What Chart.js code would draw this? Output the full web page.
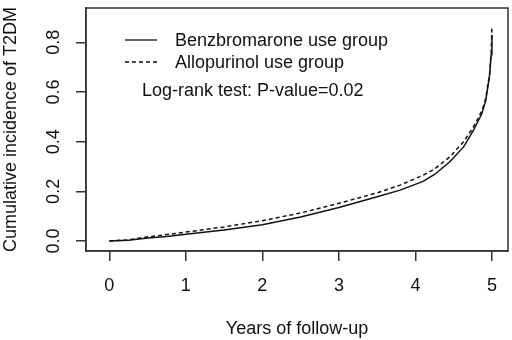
<!DOCTYPE html>
<html>
<head>
<meta charset="utf-8">
<script src="https://cdn.jsdelivr.net/npm/chart.js@4"></script>
<style>
  html, body { margin: 0; padding: 0; background: #fff; }
  #wrap { width: 512px; height: 340px; }
</style>
</head>
<body>
<div id="wrap"><canvas id="chart" width="512" height="340"></canvas></div>
<script>
// follow-up time (years) and cumulative incidence
const years = [0, 0.25, 0.5, 0.75, 1, 1.5, 2, 2.5, 3, 3.5, 3.8, 4.1, 4.25, 4.45, 4.63, 4.76, 4.87, 4.92, 4.97, 4.99, 5.0];
const benzbromarone = [0, 0.003, 0.012, 0.018, 0.027, 0.045, 0.066, 0.097, 0.135, 0.178, 0.205, 0.24, 0.268, 0.319, 0.379, 0.446, 0.514, 0.567, 0.668, 0.75, 0.83];
const allopurinol = [0, 0.005, 0.017, 0.026, 0.036, 0.057, 0.082, 0.113, 0.152, 0.194, 0.225, 0.265, 0.29, 0.339, 0.4, 0.46, 0.525, 0.575, 0.675, 0.76, 0.863];
const seriesLabels = ["Benzbromarone use group", "Allopurinol use group"];
const xTicks = [0, 1, 2, 3, 4, 5];
const yTicks = [0.0, 0.2, 0.4, 0.6, 0.8];
const testNote = "Log-rank test: P-value=0.02";

const FONT = "'Liberation Sans', Arial, sans-serif";
const ink = "#111";

const toPoints = (ys) => years.map((x, i) => ({ x: x, y: ys[i] }));

// box, rotated y tick labels and the in-plot legend
const decorations = {
  id: "decorations",
  afterDraw(chart) {
    const { ctx, chartArea, scales } = chart;
    ctx.save();
    ctx.strokeStyle = "#333";
    ctx.lineWidth = 1.5;
    ctx.strokeRect(chartArea.left, chartArea.top, chartArea.right - chartArea.left, chartArea.bottom - chartArea.top);

    ctx.fillStyle = ink;
    ctx.font = "18px " + FONT;
    ctx.textAlign = "center";
    ctx.textBaseline = "middle";
    yTicks.forEach((v) => {
      const py = scales.y.getPixelForValue(v);
      ctx.save();
      ctx.translate(chartArea.left - 32, py);
      ctx.rotate(-Math.PI / 2);
      ctx.fillText(v.toFixed(1), 0, 0);
      ctx.restore();
    });

    const lx = chartArea.left + 39;
    let ly = chartArea.top + 32;
    chart.data.datasets.forEach((ds) => {
      ctx.beginPath();
      ctx.setLineDash(ds.borderDash || []);
      ctx.lineWidth = 1.3;
      ctx.strokeStyle = ink;
      ctx.moveTo(lx, ly);
      ctx.lineTo(lx + 32, ly);
      ctx.stroke();
      ctx.setLineDash([]);
      ctx.textAlign = "left";
      ctx.fillText(ds.label, lx + 50, ly + 1);
      ly += 22;
    });
    ctx.fillText(testNote, chartArea.left + 56, chartArea.top + 83);
    ctx.restore();
  }
};

new Chart(document.getElementById("chart"), {
  type: "line",
  data: {
    datasets: [
      {
        label: seriesLabels[0],
        data: toPoints(benzbromarone),
        borderColor: ink,
        borderWidth: 1.5,
        pointRadius: 0,
        fill: false,
        tension: 0
      },
      {
        label: seriesLabels[1],
        data: toPoints(allopurinol),
        borderColor: ink,
        borderWidth: 1.5,
        borderDash: [4, 3],
        pointRadius: 0,
        fill: false,
        tension: 0
      }
    ]
  },
  options: {
    responsive: false,
    animation: false,
    layout: { padding: { left: 0, top: 8, right: 4, bottom: 0 } },
    plugins: {
      legend: { display: false },
      tooltip: { enabled: false }
    },
    scales: {
      x: {
        type: "linear",
        min: -0.305,
        max: 5.21,
        afterFit: (s) => { s.height = 89; },
        afterBuildTicks: (s) => { s.ticks = xTicks.map((v) => ({ value: v })); },
        grid: { drawOnChartArea: false, drawTicks: true, tickLength: 10, color: "#333", lineWidth: 1.5 },
        border: { display: true, color: "#333", width: 1.5 },
        ticks: {
          color: ink,
          font: { family: FONT, size: 18 },
          padding: 14,
          maxRotation: 0,
          callback: (v) => String(v)
        },
        title: {
          display: true,
          text: "Years of follow-up",
          color: ink,
          font: { family: FONT, size: 18 },
          padding: { top: 0, bottom: 0 }
        }
      },
      y: {
        type: "linear",
        min: -0.04,
        max: 0.938,
        afterFit: (s) => { s.width = 86; },
        afterBuildTicks: (s) => { s.ticks = yTicks.map((v) => ({ value: v })); },
        grid: { drawOnChartArea: false, drawTicks: true, tickLength: 10, color: "#333", lineWidth: 1.5 },
        border: { display: true, color: "#333", width: 1.5 },
        ticks: { display: false },
        title: {
          display: true,
          text: "Cumulative incidence of T2DM",
          color: ink,
          font: { family: FONT, size: 18 },
          padding: { top: 0, bottom: 0 }
        }
      }
    }
  },
  plugins: [decorations]
});
</script>
</body>
</html>
